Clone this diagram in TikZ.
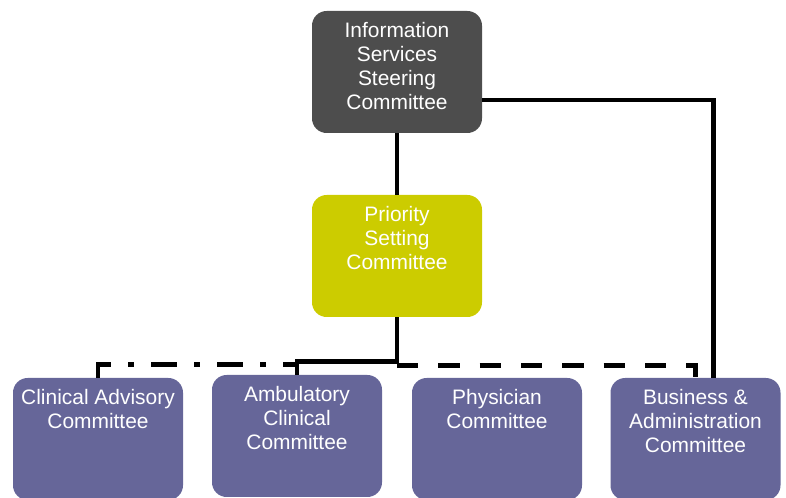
\documentclass[tikz,border=0pt]{standalone}
\usepackage{fontspec}
\setmainfont{Liberation Sans}
\definecolor{darkbox}{HTML}{4D4D4D}
\definecolor{yelbox}{HTML}{CCCC00}
\definecolor{purbox}{HTML}{666699}
\newcommand{\firstln}{\rule{0pt}{12pt}}
\begin{document}
\begin{tikzpicture}[x=0.75pt,y=-0.75pt,
  box/.style={draw=none,rounded corners=11pt,minimum width=127.5pt,minimum height=91.5pt,inner sep=0pt},
  txt/.style={anchor=north,align=center,inner sep=0pt,text=white,font=\fontsize{15.7}{18}\selectfont},
  conn/.style={line width=3.5pt,black},
  dd/.style={conn,dash pattern=on 19.5pt off 13pt on 4pt off 13pt},
  dsh/.style={conn,dash pattern=on 16pt off 15pt}]
\useasboundingbox (0,0) rectangle (786,498);
\clip (0,0) rectangle (786,498);
% boxes
\node[box,fill=darkbox] (isc) at (397,72) {};
\node[box,fill=yelbox] (psc) at (397,256) {};
\node[box,fill=purbox] (cli) at (98,439) {};
\node[box,fill=purbox] (amb) at (297,436) {};
\node[box,fill=purbox] (phy) at (497,439) {};
\node[box,fill=purbox] (bus) at (695.5,439) {};
% connectors
\draw[conn] (isc.south) -- (psc.north);
\draw[conn] ([yshift=-21pt]isc.east) -| ([xshift=13.5pt]bus.north);
\draw[dd] (cli.north) -- ++(0,-13) -| (amb.north);
\draw[dsh] ([yshift=-36pt]psc.south) -| (bus.north);
\draw[conn] (psc.south) -- ++(0,44) -| (amb.north);
% texts
\node[txt] (iscT) at ([yshift=-7.9pt]isc.north) {\firstln Information\\Services\\Steering\\Committee};
\node[txt] (pscT) at ([yshift=-7.9pt]psc.north) {\firstln Priority\\Setting\\Committee};
\node[txt] (cliT) at ([yshift=-7.9pt]cli.north) {\firstln Clinical Advisory\\Committee};
\node[txt] (ambT) at ([yshift=-7.9pt]amb.north) {\firstln Ambulatory\\Clinical\\Committee};
\node[txt] (phyT) at ([yshift=-7.9pt]phy.north) {\firstln Physician\\Committee};
\node[txt] (busT) at ([yshift=-7.9pt]bus.north) {\firstln Business \&\\Administration\\Committee};
\end{tikzpicture}
\end{document}
